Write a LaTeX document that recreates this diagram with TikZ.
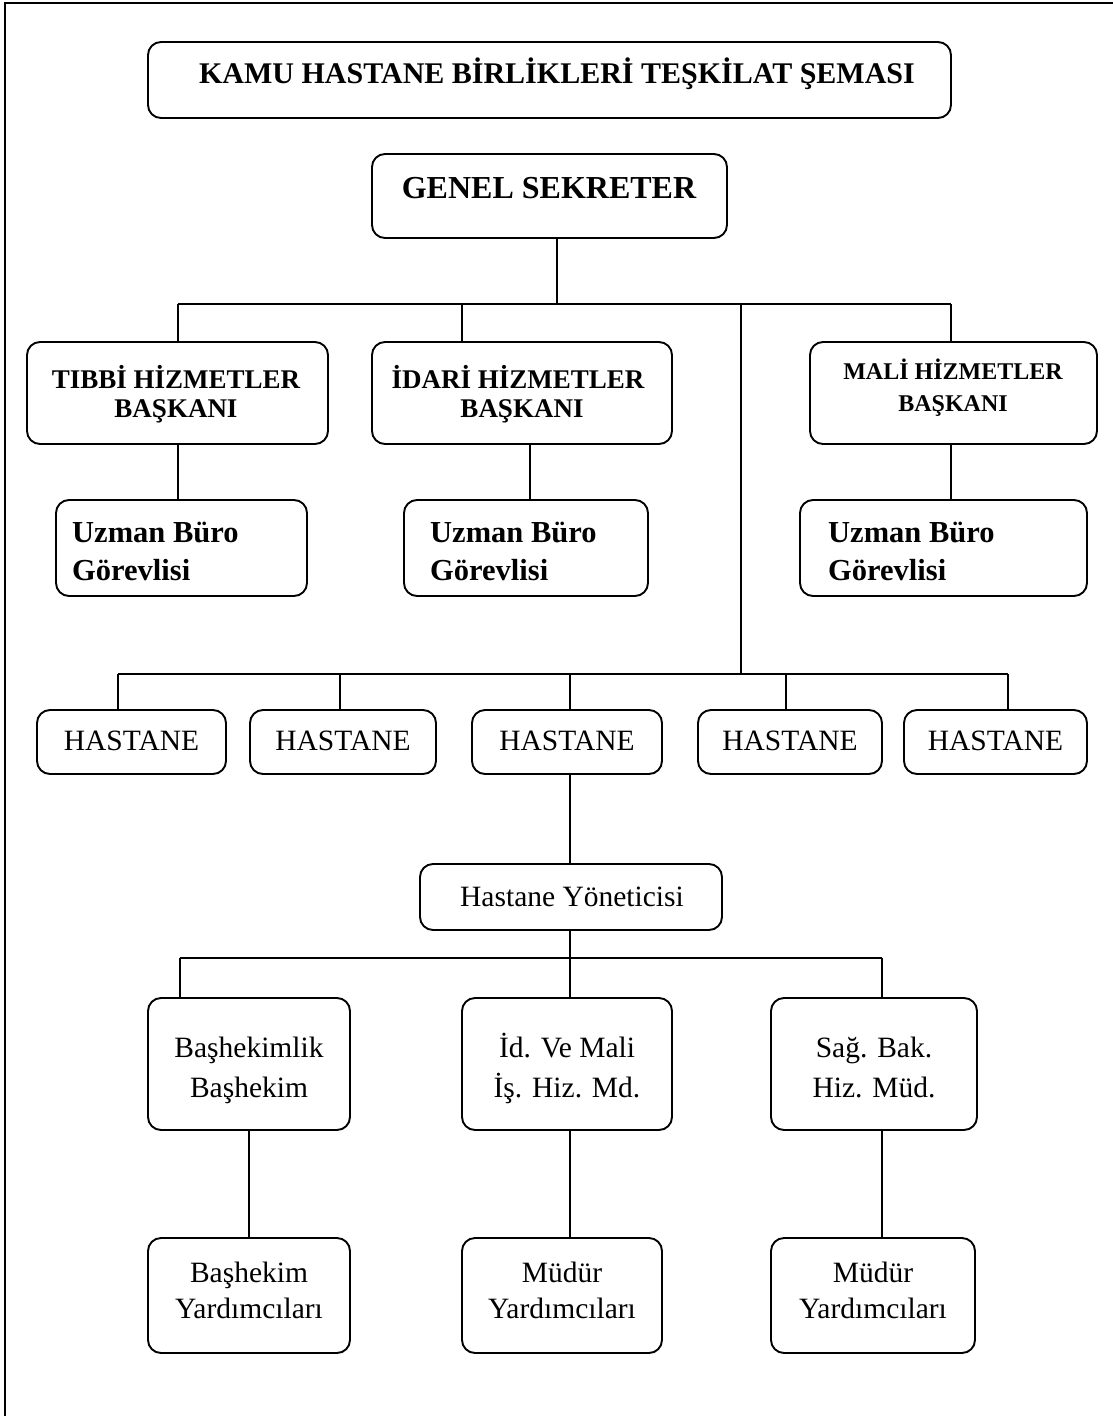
\documentclass[tikz,border=0pt]{standalone}
\usepackage{fontspec}
\setmainfont{Liberation Serif}
\usetikzlibrary{fit}
\newcommand\fB[1]{\bfseries\fontsize{#1}{#1}\selectfont}
\newcommand\fR[1]{\fontsize{#1}{#1}\selectfont}
% box from its top-left and bottom-right corners
\newcommand\mkbox[5]{%
  \path (#2,#3) coordinate (#1-nw) (#4,#5) coordinate (#1-se);
  \node[orgbox, fit=(#1-nw)(#1-se)] (#1) {};}
% one line of text, placed by its baseline
\newcommand\txt[5][]{\node[lbl,#1] at (#2,#3) {#4#5};}
\begin{document}
\begin{tikzpicture}[x=1pt,y=-1pt,
  orgbox/.style={draw, line width=1.9pt, rounded corners=13pt, inner sep=0pt, outer sep=0pt},
  link/.style={line width=1.6pt},
  lbl/.style={inner sep=0pt, anchor=base},
]
\useasboundingbox (0,0) rectangle (1113,1416);
\fill[white] (0,0) rectangle (1113,1416);
\draw[line width=2.2pt] (5.3,1420) -- (5.3,3) -- (1120,3);

% title and general secretary
\mkbox{title}{148}{42}{951}{118}
\txt{557}{83}{\fB{30}}{KAMU HASTANE BİRLİKLERİ TEŞKİLAT ŞEMASI}
\mkbox{gs}{372}{154}{727}{238}
\txt{549}{198}{\fB{32}}{GENEL SEKRETER}

% presidents
\mkbox{tibbi}{27}{342}{328}{444}
\txt{176}{388}{\fB{27}}{TIBBİ HİZMETLER}
\txt{176}{417}{\fB{27}}{BAŞKANI}
\mkbox{idari}{372}{342}{672}{444}
\txt{518}{388}{\fB{27}}{İDARİ HİZMETLER}
\txt{522}{417}{\fB{27}}{BAŞKANI}
\mkbox{mali}{810}{342}{1097}{444}
\txt{953}{379}{\fB{24}}{MALİ HİZMETLER}
\txt{953}{411}{\fB{24}}{BAŞKANI}

% expert offices
\mkbox{uz1}{56}{500}{307}{596}
\txt[anchor=base west]{72}{542}{\fB{30.5}}{Uzman Büro}
\txt[anchor=base west]{72}{580}{\fB{30.5}}{Görevlisi}
\mkbox{uz2}{404}{500}{648}{596}
\txt[anchor=base west]{430}{542}{\fB{30.5}}{Uzman Büro}
\txt[anchor=base west]{430}{580}{\fB{30.5}}{Görevlisi}
\mkbox{uz3}{800}{500}{1087}{596}
\txt[anchor=base west]{828}{542}{\fB{30.5}}{Uzman Büro}
\txt[anchor=base west]{828}{580}{\fB{30.5}}{Görevlisi}

% hospitals
\mkbox{h1}{37}{710}{226}{774}
\mkbox{h2}{250}{710}{436}{774}
\mkbox{h3}{472}{710}{662}{774}
\mkbox{h4}{698}{710}{882}{774}
\mkbox{h5}{904}{710}{1087}{774}
\foreach \n in {h1,h2,h3,h4,h5}
  \node[lbl, font=\fR{29.5}] at ([yshift=-8pt]\n.center) {HASTANE};

% hospital management
\mkbox{yon}{420}{864}{722}{930}
\txt{572}{906}{\fR{29.5}}{Hastane Yöneticisi}

\mkbox{bas}{148}{998}{350}{1130}
\txt{249}{1057}{\fR{29.5}}{Başhekimlik}
\txt{249}{1097}{\fR{29.5}}{Başhekim}
\mkbox{idm}{462}{998}{672}{1130}
\txt{567}{1057}{\fR{29.5}}{İd. Ve Mali}
\txt{567}{1097}{\fR{29.5}}{İş. Hiz. Md.}
\mkbox{sag}{771}{998}{977}{1130}
\txt{874}{1057}{\fR{29.5}}{Sağ. Bak.}
\txt{874}{1097}{\fR{29.5}}{Hiz. Müd.}

\mkbox{by}{148}{1238}{350}{1353}
\txt{249}{1282}{\fR{29.5}}{Başhekim}
\txt{249}{1318}{\fR{29.5}}{Yardımcıları}
\mkbox{my1}{462}{1238}{662}{1353}
\txt{562}{1282}{\fR{29.5}}{Müdür}
\txt{562}{1318}{\fR{29.5}}{Yardımcıları}
\mkbox{my2}{771}{1238}{975}{1353}
\txt{873}{1282}{\fR{29.5}}{Müdür}
\txt{873}{1318}{\fR{29.5}}{Yardımcıları}

% connectors: upper level
\coordinate (g0) at (557,304);
\coordinate (gl) at (178,304);
\coordinate (ga) at (462,304);
\coordinate (gh) at (741,304);
\coordinate (gr) at (951,304);
\draw[link] (gs.south -| g0) -- (g0);
\draw[link] (gl) -- (gr);
\draw[link] (gl) -- (tibbi.north -| gl);
\draw[link] (ga) -- (idari.north -| ga);
\draw[link] (gr) -- (mali.north -| gr);
\draw[link] (tibbi.south -| gl) -- (uz1.north -| gl);
\coordinate (ia) at (530,0);
\draw[link] (idari.south -| ia) -- (uz2.north -| ia);
\draw[link] (mali.south -| gr) -- (uz3.north -| gr);

% connectors: hospitals
\coordinate (hh) at (741,674);
\coordinate (hl) at (118,674);
\coordinate (hr) at (1008,674);
\draw[link] (gh) -- (hh);
\draw[link] (hl) -- (hr);
\foreach \n/\x in {h1/118,h2/340,h3/570,h4/786,h5/1008}
  \draw[link] (\x,674) -- (\n.north -| \x,0);
\coordinate (hc) at (570,0);
\draw[link] (h3.south -| hc) -- (yon.north -| hc);

% connectors: hospital management
\coordinate (ml) at (180,958);
\coordinate (mc) at (570,958);
\coordinate (mr) at (882,958);
\draw[link] (yon.south -| mc) -- (mc);
\draw[link] (ml) -- (mr);
\draw[link] (ml) -- (bas.north -| ml);
\draw[link] (mc) -- (idm.north -| mc);
\draw[link] (mr) -- (sag.north -| mr);
\coordinate (bc) at (249,0);
\draw[link] (bas.south -| bc) -- (by.north -| bc);
\draw[link] (idm.south -| mc) -- (my1.north -| mc);
\draw[link] (sag.south -| mr) -- (my2.north -| mr);
\end{tikzpicture}
\end{document}
